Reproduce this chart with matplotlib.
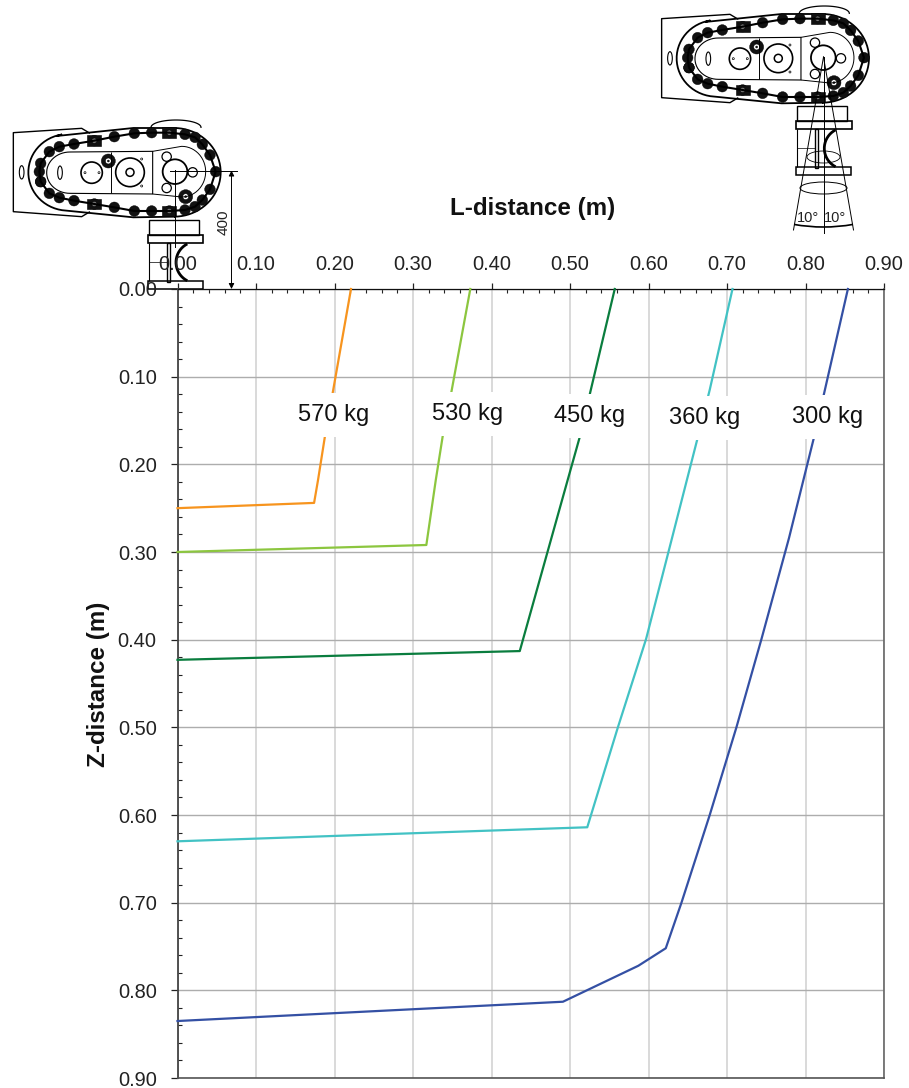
import matplotlib
matplotlib.use("Agg")
import matplotlib.pyplot as plt
from matplotlib.patches import Circle, Ellipse, Rectangle, Polygon, Arc
from matplotlib.ticker import MultipleLocator, FormatStrFormatter
import numpy as np

plt.rcParams['font.family'] = ['Liberation Sans', 'DejaVu Sans']

# values
x_570 = [0.000, 0.174, 0.179, 0.188, 0.198, 0.221]
z_570 = [0.250, 0.244, 0.218, 0.167, 0.117, 0.000]
x_530 = [0.000, 0.317, 0.329, 0.338, 0.349, 0.373]
z_530 = [0.300, 0.292, 0.218, 0.167, 0.117, 0.000]
x_450 = [0.000, 0.436, 0.497, 0.513, 0.526, 0.557]
z_450 = [0.423, 0.413, 0.218, 0.167, 0.117, 0.000]
x_360 = [0.000, 0.522, 0.561, 0.597, 0.630, 0.664, 0.678, 0.707]
z_360 = [0.630, 0.614, 0.500, 0.399, 0.284, 0.165, 0.115, 0.000]
x_300 = [0.000, 0.491, 0.587, 0.622, 0.642, 0.678, 0.712, 0.744, 0.779, 0.812, 0.854]
z_300 = [0.835, 0.813, 0.772, 0.752, 0.700, 0.600, 0.500, 0.399, 0.284, 0.165, 0.000]

series_names = ["570 kg", "530 kg", "450 kg", "360 kg", "300 kg"]
series_colors = ["#F7941E", "#8CC63F", "#0A7D3E", "#42C2C4", "#3450A4"]
label_x = [0.199, 0.369, 0.525, 0.672, 0.828]
label_z = [0.1435, 0.1425, 0.1450, 0.1470, 0.1460]

W, H = 909, 1088
fig = plt.figure(figsize=(W / 100, H / 100), dpi=100)
ax = fig.add_axes([177.5 / W, 1 - 1078 / H, 706.5 / W, 789 / H])

for xs, zs, c in zip([x_570, x_530, x_450, x_360, x_300],
                     [z_570, z_530, z_450, z_360, z_300], series_colors):
    ax.plot(xs, zs, color=c, linewidth=1.6, zorder=3, clip_on=False)

ax.set_xlim(0, 0.9)
ax.set_ylim(0.9, 0)
ax.xaxis.set_major_locator(MultipleLocator(0.1))
ax.xaxis.set_minor_locator(MultipleLocator(0.02))
ax.yaxis.set_major_locator(MultipleLocator(0.1))
ax.yaxis.set_minor_locator(MultipleLocator(0.02))
ax.xaxis.set_major_formatter(FormatStrFormatter('%.2f'))
ax.yaxis.set_major_formatter(FormatStrFormatter('%.2f'))
ax.xaxis.tick_top()
ax.xaxis.grid(True, which='major', color='#CFCFCF', linewidth=1.1)
ax.yaxis.grid(True, which='major', color='#ADADAD', linewidth=1.0)
ax.set_axisbelow(True)
ax.tick_params(axis='x', which='major', direction='out', length=4.5, width=0.9, labelsize=14.4, pad=6, color='#222222', labelcolor='#222222')
ax.tick_params(axis='x', which='minor', direction='in', length=3, width=0.8, color='#222222')
ax.tick_params(axis='y', which='major', direction='out', length=5, width=0.9, labelsize=14.4, pad=10, color='#222222', labelcolor='#222222')
ax.tick_params(axis='y', which='minor', direction='in', length=3, width=0.8, color='#222222')
ax.spines['right'].set_color('#666666')
ax.spines['right'].set_linewidth(1.2)
ax.spines['bottom'].set_color('#555555')
ax.spines['left'].set_color('#444444')
ax.spines['left'].set_linewidth(1.3)
ax.spines['bottom'].set_linewidth(1.2)
ax.spines['top'].set_color('#111111')
ax.spines['top'].set_linewidth(0.9)

for name, lx, lz in zip(series_names, label_x, label_z):
    ax.text(lx, lz, name, fontsize=17, ha='center', va='center', zorder=5, color='#111111',
            bbox=dict(facecolor='white', edgecolor='none', pad=8))

fig.text(533 / W, 1 - 209 / H, "L-distance (m)", fontsize=17.4, fontweight='bold', ha='center', va='center', color='#111111')
fig.text(98 / W, 1 - 684 / H, "Z-distance (m)", fontsize=17.4, fontweight='bold', rotation=90, ha='center', va='center', color='#111111')

# overlay in pixel coordinates for the two robot drawings
ov = fig.add_axes([0, 0, 1, 1], zorder=-1)
ov.set_xlim(0, W)
ov.set_ylim(H, 0)
ov.axis('off')
ax.patch.set_alpha(0)

chain = [(122, 245), (148, 280), (178, 293), (222, 302), (283, 312), (343, 322), (403, 333), (455, 333),
         (508, 333), (555, 330), (585, 320), (607, 300), (630, 268), (647, 215), (630, 165), (607, 133),
         (585, 112), (555, 103), (508, 98), (455, 98), (403, 100), (343, 110), (283, 122), (222, 132),
         (178, 140), (148, 155), (122, 190), (118, 215), (122, 245)]
blocks = [(283, 122), (508, 98), (508, 333), (283, 312)]


def draw_robot(dx, dy):
    def p(x, y):
        return x / 3 + dx, y / 3 + dy

    def line(pts, lw=0.7, color='black'):
        q = [p(*a) for a in pts]
        ov.plot([a[0] for a in q], [a[1] for a in q], color=color, lw=lw, solid_capstyle='butt')

    def circ(x, y, r, fc='none', lw=0.9):
        ov.add_patch(Circle(p(x, y), r / 3, facecolor=fc, edgecolor='black', lw=lw))

    # flange plate
    line([(270, 100), (245, 85), (40, 98), (40, 335), (245, 350), (270, 335)], lw=1.0)
    ov.add_patch(Ellipse(p(65, 217), 14 / 3, 40 / 3, fill=False, lw=0.8))
    # bump on top
    t = np.linspace(np.pi, 2 * np.pi, 30)
    q = [p(528 + 75 * np.cos(a), 82 + 22 * np.sin(a)) for a in t]
    ov.plot([a[0] for a in q], [a[1] for a in q], color='black', lw=0.9)
    # belt outline
    t1 = np.linspace(np.pi * 0.55, np.pi * 1.45, 30)
    outer = [(205 + 120 * np.cos(a), 217 - 115 * np.sin(a)) for a in t1]
    t2 = np.linspace(np.pi * 0.5, -np.pi * 0.5, 40)
    right = [(522 + 140 * np.cos(a), 217 - 133 * np.sin(a)) for a in t2[::-1]]
    pts = outer + [(400, 352), (525, 350)] + right + [(400, 84), (170, 108)]
    ov.add_patch(Polygon([p(*a) for a in pts], closed=True, facecolor='white', edgecolor='black', lw=1.3))
    # chain
    line(chain, lw=1.5)
    for x, y in chain:
        circ(x, y, 16, fc='#111111', lw=0.3)
    for x, y in blocks:
        ov.add_patch(Rectangle(p(x - 21, y - 16), 42 / 3, 32 / 3, facecolor='#111111', edgecolor='black', lw=0.4))
        circ(x, y, 8, fc='#777777', lw=0.4)
    # inner arm
    t3 = np.linspace(np.pi / 2, 3 * np.pi / 2, 30)
    arm = [(210 + 70 * np.cos(a), 218 - 62 * np.sin(a)) for a in t3]
    line(arm + [(458, 282), (458, 154), (210, 156)], lw=0.8)
    line([(332, 155), (332, 280)], lw=0.7)
    t4 = np.linspace(np.pi * 0.5, -np.pi * 0.5, 30)
    pill = [(545 + 72 * np.cos(a), 215 - 76 * np.sin(a)) for a in t4]
    line([(458, 154)] + pill + [(458, 282)], lw=0.7)
    ov.add_patch(Ellipse(p(180, 218), 14 / 3, 40 / 3, fill=False, lw=0.8))
    circ(275, 218, 32, lw=1.2)
    circ(255, 218, 3, lw=0.5)
    circ(297, 218, 3, lw=0.5)
    circ(390, 217, 43, lw=1.2)
    circ(390, 217, 12, lw=1.1)
    circ(425, 177, 3, lw=0.5)
    circ(425, 258, 3, lw=0.5)
    circ(525, 215, 37, lw=1.3)
    circ(500, 170, 14, lw=0.9)
    circ(500, 264, 14, lw=0.9)
    circ(578, 217, 14, lw=0.9)
    for x, y in [(325, 183), (557, 290)]:
        circ(x, y, 21, fc='#111111', lw=0.3)
        circ(x, y, 9, fc='white', lw=0.4)
        circ(x, y, 3, fc='#111111', lw=0.3)
    # column
    ov.add_patch(Rectangle(p(447, 360), 150 / 3, 45 / 3, fill=False, lw=1.0))
    ov.add_patch(Rectangle(p(443, 405), 167 / 3, 23 / 3, fill=False, lw=1.2))
    line([(447, 428), (447, 543)], lw=0.8)
    line([(447, 485), (500, 485)], lw=0.5)
    ov.add_patch(Rectangle(p(500, 430), 10 / 3, 115 / 3, fill=False, lw=1.0))
    ov.add_patch(Rectangle(p(443, 543), 165 / 3, 24 / 3, fill=False, lw=1.1))
    t5 = np.linspace(0.65 * np.pi, 1.35 * np.pi, 20)
    cable = [(590 + 62 * np.cos(a), 487 + 62 * np.sin(a)) for a in t5]
    line(cable, lw=2.0)


draw_robot(0, 100)
draw_robot(648.3, -14)

# dimension marks on the left robot
ov.plot([170, 237], [170.5, 170.5], color='black', lw=0.7)
ov.plot([175, 175], [170, 247], color='black', lw=0.7)
ov.annotate('', xy=(231.5, 170.5), xytext=(231.5, 289),
            arrowprops=dict(arrowstyle='<|-|>', color='black', lw=0.7, shrinkA=0, shrinkB=0, mutation_scale=8))
ov.text(224, 222, "400", rotation=90, fontsize=11, ha='center', va='center', color='#222222')

# angle marks on the right robot
cx, cy = 823.5, 57
ov.plot([cx, cx], [cy, 233], color='black', lw=0.7)
ov.plot([cx, 793.5], [cy, 230], color='black', lw=0.7)
ov.plot([cx, 853.5], [cy, 230], color='black', lw=0.7)
ov.add_patch(Ellipse((cx, 157), 33, 12, fill=False, lw=0.6))
ov.add_patch(Ellipse((cx, 188), 47, 12, fill=False, lw=0.7))
ov.add_patch(Arc((cx, cy), 2 * 170, 2 * 170, theta1=80, theta2=100, lw=1.2))
ov.text(808, 218, "10°", fontsize=10.5, ha='center', va='center', color='#222222')
ov.text(835, 218, "10°", fontsize=10.5, ha='center', va='center', color='#222222')

fig.savefig("out.png", dpi=100)
